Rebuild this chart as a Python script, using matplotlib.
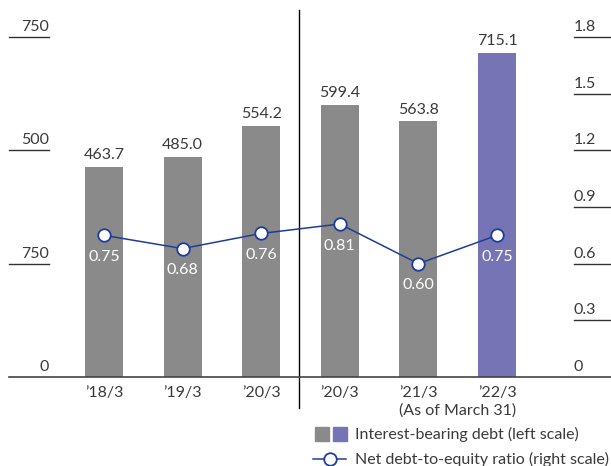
import matplotlib
matplotlib.use("Agg")
import matplotlib.pyplot as plt
from matplotlib.patches import Rectangle
from matplotlib.lines import Line2D
import matplotlib.transforms as mtransforms

plt.rcParams['font.family'] = ['Lato', 'DejaVu Sans']

categories = ["\u201918/3", "\u201919/3", "\u201920/3", "\u201920/3", "\u201921/3", "\u201922/3"]
debt = [463.7, 485.0, 554.2, 599.4, 563.8, 715.1]
ratio = [0.75, 0.68, 0.76, 0.81, 0.60, 0.75]
bar_colors = ["#8a8a8a"] * 5 + ["#7674b4"]
left_ticks = [0, 250, 500, 750]
left_labels = ["0", "750", "500", "750"]
right_ticks = [0, 0.3, 0.6, 0.9, 1.2, 1.5, 1.8]
right_labels = ["0", "0.3", "0.6", "0.9", "1.2", "1.5", "1.8"]

FS = 11.5
TC = '#3a3a3a'
W, H = 611, 466
fig = plt.figure(figsize=(W / 100, H / 100), dpi=100)

def fx(px):
    return px / W

def fy(py):
    return 1 - py / H

ax = fig.add_axes([fx(9), fy(377), fx(611) - fx(9), fy(10) - fy(377)])
ymax = (377 - 10) / (340 / 750)
ax.set_ylim(0, ymax)
ax.set_xlim((9 - 104) / 78.6, (611 - 104) / 78.6)
ax2 = ax.twinx()
ax2.set_ylim(0, 1.8 * ymax / 750)
for a in (ax, ax2):
    a.axis('off')

xs = list(range(len(categories)))
bw = 38 / 78.6
ax.bar(xs, debt, width=bw, color=bar_colors, zorder=2)
for x, v in zip(xs, debt):
    ax.annotate(f"{v:.1f}", (x, v), xytext=(0, 8.5), textcoords='offset points',
                ha='center', va='center', fontsize=FS, color=TC)

ax2.plot(xs, ratio, color='#1f3d96', lw=1.1, marker='o', markersize=9,
         markerfacecolor='white', markeredgecolor='#1f3d96', markeredgewidth=1.3, zorder=5)
for x, v in zip(xs, ratio):
    ax2.annotate(f"{v:.2f}", (x, v), xytext=(0, -15.5), textcoords='offset points',
                 ha='center', va='center', fontsize=FS, color='white', zorder=6)

# left scale labels with underlines
tl = mtransforms.blended_transform_factory(ax.transAxes, ax.transData)
lx1 = (49 - 9) / (611 - 9)
for t, lab in zip(left_ticks, left_labels):
    if t > 0:
        ax.plot([0, lx1], [t, t], transform=tl, color='#333333', lw=1.0, clip_on=False)
    ax.annotate(lab, (lx1, t), xycoords=tl, xytext=(0, 2.2), textcoords='offset points',
                ha='right', va='bottom', fontsize=FS, color=TC)

# right scale labels
tr = mtransforms.blended_transform_factory(ax2.transAxes, ax2.transData)
rx0 = (574 - 9) / (611 - 9)
for t, lab in zip(right_ticks, right_labels):
    if t > 0:
        ax2.plot([rx0, 1], [t, t], transform=tr, color='#333333', lw=1.0, clip_on=False)
    ax2.annotate(lab, (rx0, t), xycoords=tr, xytext=(0, 2.2), textcoords='offset points',
                 ha='left', va='bottom', fontsize=FS, color=TC)

# baseline
ax.plot([0, 1], [0, 0], transform=tl, color='#444444', lw=1.2, clip_on=False, zorder=3)

# vertical divider
xd = (299 - 9) / (611 - 9)
ax.plot([xd, xd], [-(408 - 377) / 367, 1], transform=ax.transAxes, color='black',
        lw=1.0, clip_on=False)

# x labels
tx = mtransforms.blended_transform_factory(ax.transData, fig.transFigure)
for x, lab in zip(xs, categories):
    ax.text(x, fy(393), lab, transform=tx, ha='center', va='center', fontsize=FS,
            color=TC)
ax.text(4.5, fy(411), "(As of March 31)", transform=tx, ha='center', va='center',
        fontsize=FS, color=TC)

# legend
fig.patches.append(Rectangle((fx(315), fy(441)), fx(14), fy(427) - fy(441),
                             transform=fig.transFigure, color='#8a8a8a'))
fig.patches.append(Rectangle((fx(333), fy(441)), fx(14), fy(427) - fy(441),
                             transform=fig.transFigure, color='#7674b4'))
fig.text(fx(355), fy(434), "Interest-bearing debt (left scale)", ha='left', va='center',
         fontsize=FS, color=TC)
fig.lines.append(Line2D([fx(313), fx(346)], [fy(459), fy(459)], transform=fig.transFigure,
                        color='#1f3d96', lw=1.1))
fig.lines.append(Line2D([fx(329.5)], [fy(459)], transform=fig.transFigure, marker='o',
                        markersize=9, markerfacecolor='white', markeredgecolor='#1f3d96',
                        markeredgewidth=1.3))
fig.text(fx(355), fy(459), "Net debt-to-equity ratio (right scale)", ha='left', va='center',
         fontsize=FS, color=TC)

fig.savefig("out.png", dpi=100)
